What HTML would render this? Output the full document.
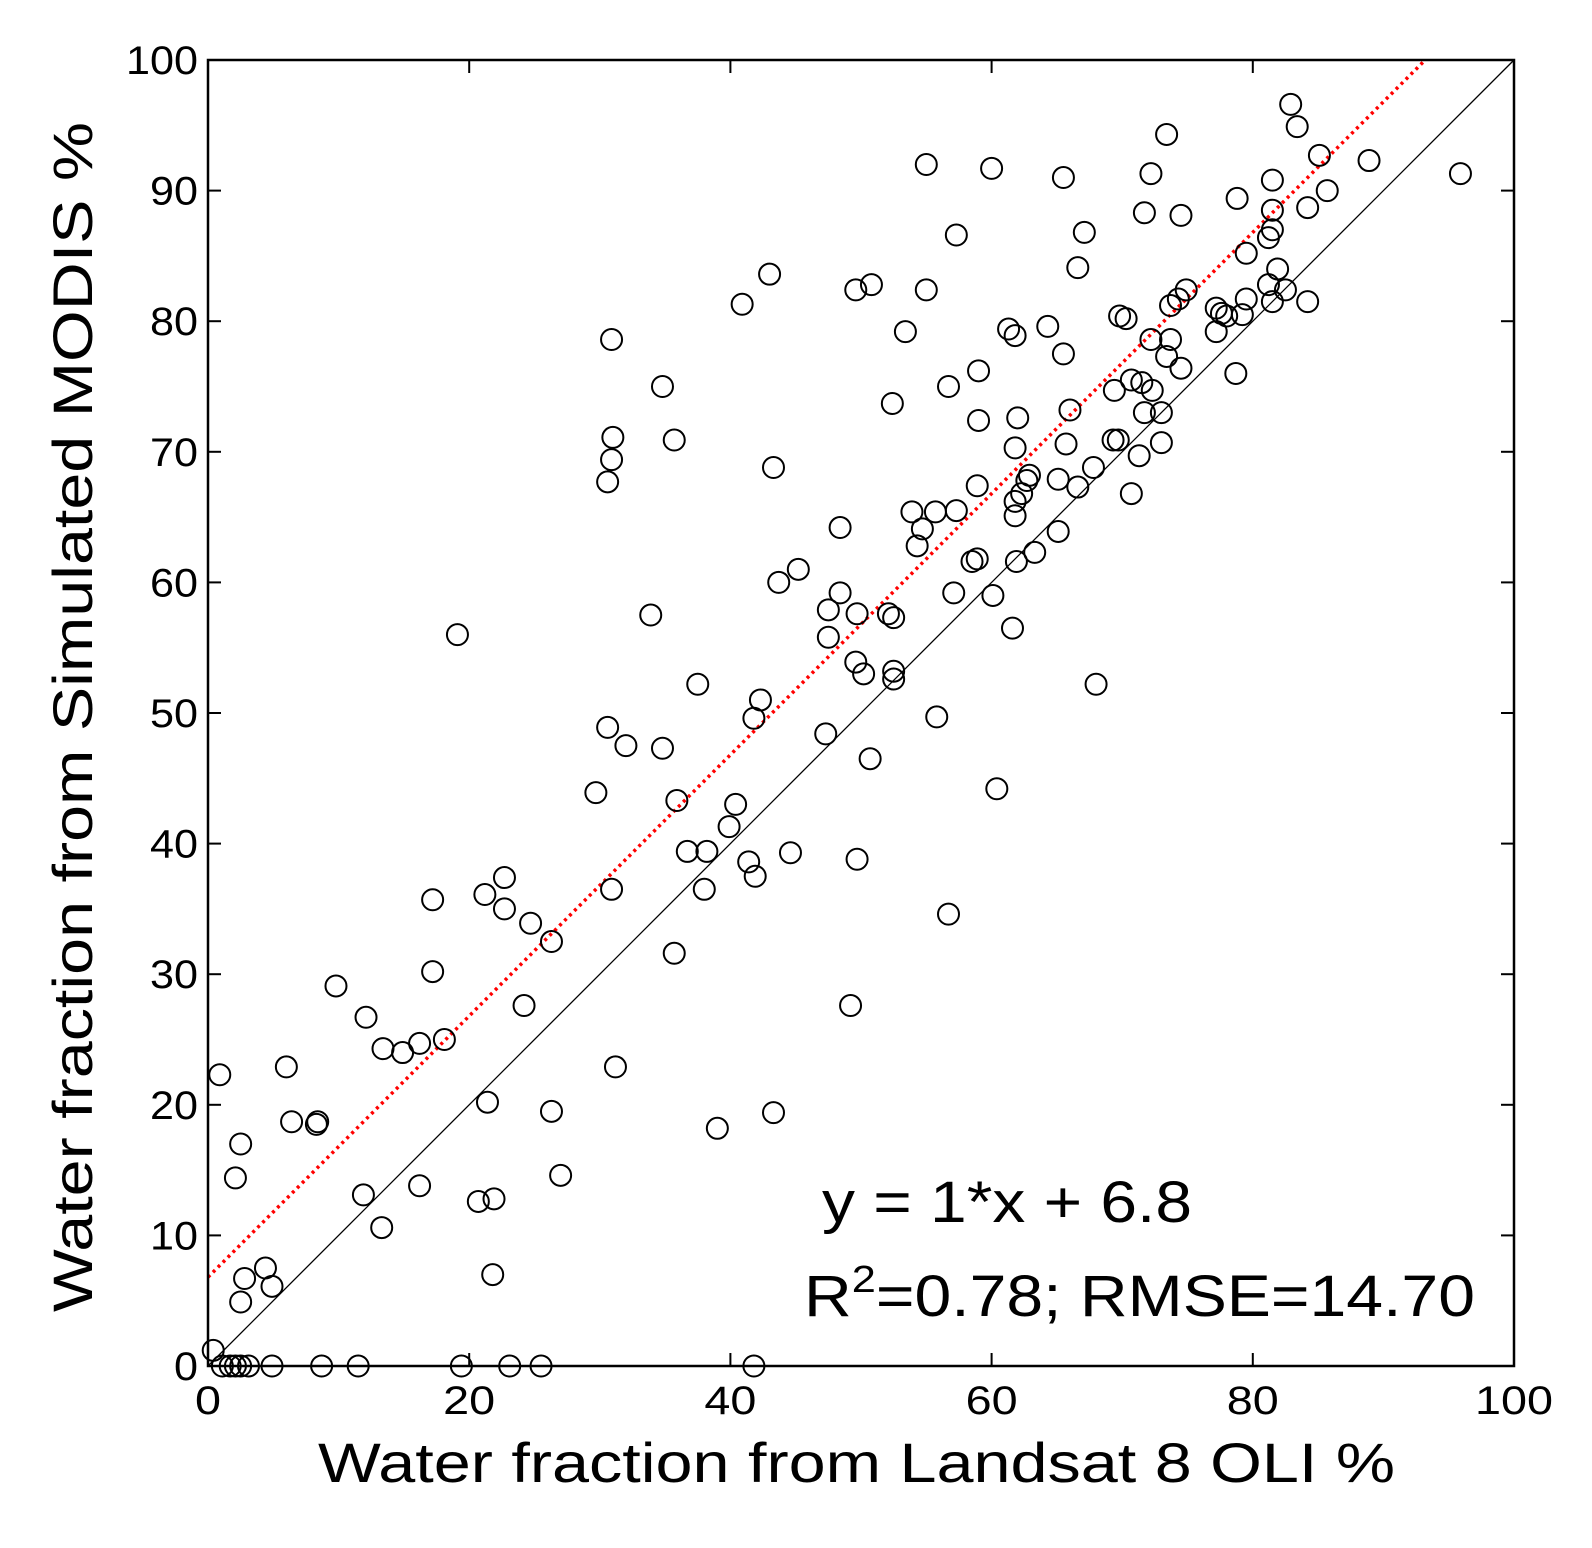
<!DOCTYPE html>
<html><head><meta charset="utf-8"><style>
html,body{margin:0;padding:0;background:#fff;}
svg{display:block;font-family:"Liberation Sans",Arial,sans-serif;}
</style></head><body>
<svg id="chart" width="1592" height="1548" viewBox="0 0 1592 1548" xmlns="http://www.w3.org/2000/svg">
<rect width="1592" height="1548" fill="#fff"/>
<g id="plot"></g>
<text x="318" y="1482" font-size="56" textLength="1077" lengthAdjust="spacingAndGlyphs">Water fraction from Landsat 8 OLI %</text>
<text transform="translate(92,1312) rotate(-90)" font-size="56" textLength="1190" lengthAdjust="spacingAndGlyphs">Water fraction from Simulated MODIS %</text>
<text x="822" y="1222" font-size="58" textLength="370" lengthAdjust="spacingAndGlyphs">y = 1*x + 6.8</text>
<text x="804" y="1316" font-size="58" textLength="671" lengthAdjust="spacingAndGlyphs">R<tspan font-size="38" dy="-24">2</tspan><tspan dy="24">=0.78; RMSE=14.70</tspan></text>
</svg>
<script>
const xTicks=[0,20,40,60,80,100];
const yTicks=[0,10,20,30,40,50,60,70,80,90,100];
const slope=1, intercept=6.8;
const xVals=[0.4,1.1,1.7,2.1,2.5,3.1,4.9,8.7,11.5,19.4,23.1,25.5,41.8,0.9,2.5,2.1,2.8,2.5,4.4,4.9,6.0,6.4,8.3,8.4,9.8,12.1,11.9,13.3,13.4,14.9,16.2,16.2,17.2,17.2,18.1,19.1,21.2,21.4,20.7,21.9,21.8,22.7,22.7,24.2,24.7,26.3,26.3,27.0,29.7,30.6,30.9,31.0,30.9,30.6,32.0,30.9,31.2,33.9,34.8,35.7,34.8,35.9,35.7,37.5,36.7,38.2,38.0,39.0,39.9,40.4,40.9,43.0,43.3,42.3,41.8,41.4,41.9,43.3,43.7,45.2,44.6,47.3,47.5,47.5,48.4,48.4,49.6,50.8,49.7,49.6,50.2,50.7,49.7,49.2,52.1,52.5,52.5,52.5,52.4,53.4,53.9,54.3,54.7,55.0,55.0,55.7,55.8,56.7,56.7,57.1,57.3,57.3,58.5,58.9,59.0,58.9,59.0,60.0,60.1,60.4,61.3,61.8,62.0,61.8,61.8,61.8,61.9,61.6,62.3,62.7,62.9,63.3,64.3,65.1,65.1,65.5,65.5,65.7,66.0,66.6,67.1,66.6,67.8,68.0,69.3,69.7,69.4,69.8,70.3,70.7,70.7,71.3,71.5,71.7,71.7,72.2,72.3,72.2,73.0,73.0,73.4,73.7,73.7,73.4,74.5,74.5,74.3,74.9,77.2,77.2,77.6,78.0,78.8,78.7,79.5,79.5,79.2,81.2,81.5,81.5,81.5,81.2,81.5,81.9,82.5,82.9,83.4,84.2,84.2,85.1,85.7,88.9,95.9];
const yVals=[1.2,0,0,0,0,0,0,0,0,0,0,0,0,22.3,17,14.4,6.7,4.9,7.5,6.1,22.9,18.7,18.5,18.7,29.1,26.7,13.1,10.6,24.3,24.0,24.7,13.8,35.7,30.2,25.0,56.0,36.1,20.2,12.6,12.8,7.0,37.4,35.0,27.6,33.9,32.5,19.5,14.6,43.9,67.7,69.4,71.1,78.6,48.9,47.5,36.5,22.9,57.5,75.0,70.9,47.3,43.3,31.6,52.2,39.4,39.4,36.5,18.2,41.3,43.0,81.3,83.6,68.8,51.0,49.6,38.6,37.5,19.4,60.0,61.0,39.3,48.4,55.8,57.9,64.2,59.2,82.4,82.8,57.6,53.9,53.0,46.5,38.8,27.6,57.6,57.3,53.2,52.6,73.7,79.2,65.4,62.8,64.1,92.0,82.4,65.4,49.7,75.0,34.6,59.2,65.5,86.6,61.6,61.8,72.4,67.4,76.2,91.7,59.0,44.2,79.4,78.9,72.6,70.3,65.1,66.2,61.6,56.5,66.8,67.8,68.2,62.3,79.6,63.9,67.9,91.0,77.5,70.6,73.2,84.1,86.8,67.3,68.8,52.2,70.9,70.9,74.7,80.4,80.2,66.8,75.5,69.7,75.3,73.0,88.3,91.3,74.7,78.6,73.0,70.7,94.3,78.6,81.2,77.3,88.1,76.4,81.7,82.4,81.0,79.2,80.6,80.4,89.4,76.0,85.2,81.7,80.5,86.4,90.8,88.5,87.0,82.8,81.5,84.0,82.4,96.6,94.9,88.7,81.5,92.7,90.0,92.3,91.3];

const L=208,R=1514,T=60,B=1366;
const sx=v=>L+(v-0)/(100-0)*(R-L);
const sy=v=>B-(v-0)/(100-0)*(B-T);
const NS="http://www.w3.org/2000/svg";
const g=document.getElementById('plot');
function mk(tag,attrs){const e=document.createElementNS(NS,tag);for(const k in attrs)e.setAttribute(k,attrs[k]);g.appendChild(e);return e;}

xTicks.forEach(t=>{
  const x=sx(t);
  const a=mk('line',{x1:x,y1:B,x2:x,y2:B-13,stroke:'#000','stroke-width':2});
  
  
  const b=mk('line',{x1:x,y1:T,x2:x,y2:T+13,stroke:'#000','stroke-width':2});
  
  
  const s=String(t);
  const tx=mk('text',{x:x,y:B+48,'font-size':40,'text-anchor':'middle',textLength:s.length*26,lengthAdjust:'spacingAndGlyphs'});
  tx.textContent=s;
  
  
});
yTicks.forEach(t=>{
  const y=sy(t);
  const a=mk('line',{x1:L,y1:y,x2:L+13,y2:y,stroke:'#000','stroke-width':2});
  
  
  const b=mk('line',{x1:R,y1:y,x2:R-13,y2:y,stroke:'#000','stroke-width':2});
  
  
  const s=String(t);
  const tx=mk('text',{x:L-10,y:y+14,'font-size':40,'text-anchor':'end',textLength:s.length*24,lengthAdjust:'spacingAndGlyphs'});
  tx.textContent=s;
  
  
});
const one=mk('line',{x1:sx(0),y1:sy(0),x2:sx(100),y2:sy(100),stroke:'#000','stroke-width':1.3});


const xEnd=(100-intercept)/slope;
const reg=mk('line',{x1:sx(0),y1:sy(intercept),x2:sx(xEnd),y2:sy(100),stroke:'#ff0000','stroke-width':3.5,'stroke-dasharray':'3,4'});


xVals.forEach((xv,i)=>{
  const c=mk('circle',{cx:sx(xv),cy:sy(yVals[i]),r:10.5,fill:'none',stroke:'#000','stroke-width':2});
  
  
});
const fr=mk('rect',{x:L,y:T,width:R-L,height:B-T,fill:'none',stroke:'#000','stroke-width':2.5});


</script>
</body></html>
